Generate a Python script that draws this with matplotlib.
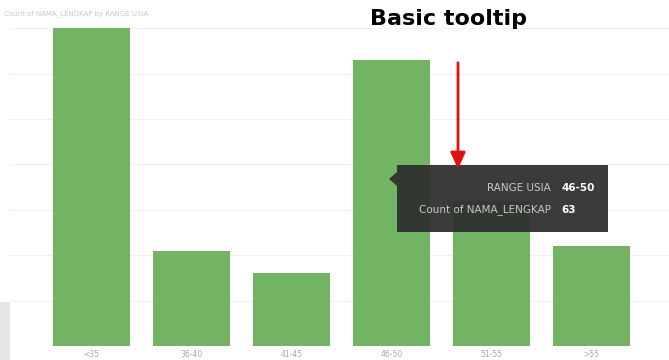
import matplotlib.pyplot as plt
from matplotlib.patches import FancyArrowPatch, Polygon, Rectangle

# Jumlah pegawai per kelompok usia
range_usia = ['<35', '36-40', '41-45', '46-50', '51-55', '>55']
jumlah = [70, 21, 16, 63, 32, 22]

fig = plt.figure(figsize=(6.69, 3.6), dpi=100)
W, H = 669, 360

# area grafik dalam piksel: x 10..669, y 10..346 (dari atas)
ax = fig.add_axes([10 / W, 14 / H, 659 / W, 336 / H])
ax.bar(range(len(jumlah)), jumlah, width=0.77, color='#72b463', zorder=2)
ax.set_xlim(-0.815, 5.775)
ax.set_ylim(0, 74)
ax.set_yticks(range(0, 71, 10))
ax.yaxis.grid(True, color='#f0f0f0', linewidth=0.8, zorder=0)
ax.tick_params(axis='y', left=False, labelleft=False)
ax.set_xticks(range(len(range_usia)))
ax.set_xticklabels(range_usia, fontsize=5.5, color='#a8a8a8')
ax.tick_params(axis='x', length=0, pad=3)
for s in ax.spines.values():
    s.set_visible(False)

# judul kecil di atas grafik
fig.text(4 / W, 1 - 14 / H, 'Count of NAMA_LENGKAP by RANGE USIA', fontsize=5,
         color='#c8c8c8', va='center', ha='left')

# panel abu-abu di pojok kiri bawah
fig.patches.append(Rectangle((0, 0), 10 / W, 58 / H, transform=fig.transFigure,
                             facecolor='#e6e6e6', edgecolor='none'))

# judul utama
fig.text(448 / W, 1 - 19 / H, 'Basic tooltip', fontsize=16, fontweight='bold',
         color='black', ha='center', va='center')

# kotak tooltip
x0, y0, x1, y1 = 397, 165, 608, 232
fig.patches.append(Rectangle((x0 / W, 1 - y1 / H), (x1 - x0) / W, (y1 - y0) / H,
                             transform=fig.transFigure, facecolor='#2f2f2f',
                             edgecolor='none', alpha=0.94, zorder=5))
fig.patches.append(Polygon([(x0 / W, 1 - 172 / H), (389 / W, 1 - 179 / H),
                            (x0 / W, 1 - 186 / H)], closed=True,
                           transform=fig.transFigure, facecolor='#2f2f2f',
                           edgecolor='none', alpha=0.94, zorder=5))
fig.text(551 / W, 1 - 188 / H, 'RANGE USIA', fontsize=7.5, color='#c8c8c8',
         ha='right', va='center', zorder=6)
fig.text(551 / W, 1 - 210 / H, 'Count of NAMA_LENGKAP', fontsize=7.5, color='#c8c8c8',
         ha='right', va='center', zorder=6)
fig.text(561 / W, 1 - 188 / H, range_usia[3], fontsize=7.5, color='white',
         fontweight='bold', ha='left', va='center', zorder=6)
fig.text(561 / W, 1 - 210 / H, str(jumlah[3]), fontsize=7.5, color='white',
         fontweight='bold', ha='left', va='center', zorder=6)

# panah merah ke tooltip
fig.add_artist(FancyArrowPatch(
    (458 / W, 1 - 60 / H), (458 / W, 1 - 172 / H), transform=fig.transFigure,
    arrowstyle='-|>,head_width=4.5,head_length=10', color='#e01010', linewidth=2,
    zorder=7))

fig.savefig('out.png', dpi=100)
